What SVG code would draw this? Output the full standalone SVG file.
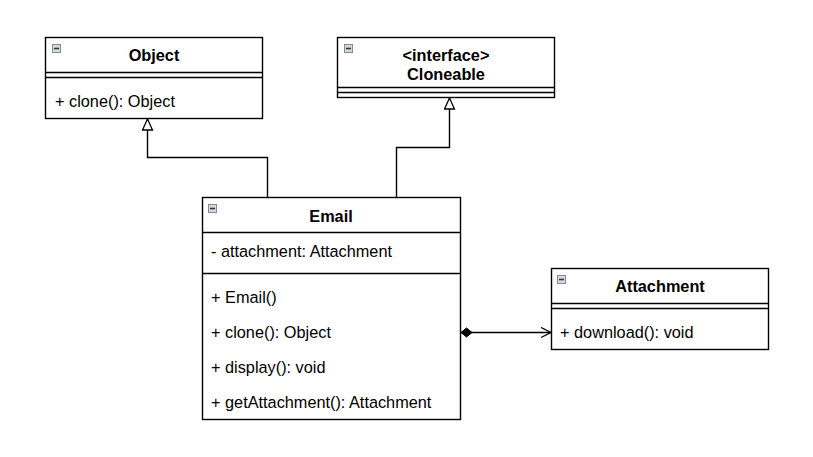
<svg xmlns="http://www.w3.org/2000/svg" width="813" height="457" viewBox="0 0 813 457">
<style>
.box{fill:#fff;stroke:#000;stroke-width:1.4}
.ln{stroke:#000;stroke-width:1.4;fill:none}
.t{font-family:"Liberation Sans",Arial,sans-serif;font-size:16.3px;fill:#000}
.b{font-weight:bold;text-anchor:middle}
.ic{fill:#d4d9e0;stroke:#7f8a99;stroke-width:1}
.icm{stroke:#333;stroke-width:1.6}
.conn{stroke:#000;stroke-width:1.4;fill:none}
</style>
<defs>
<marker id="tri" markerWidth="14" markerHeight="14" refX="12" refY="6" orient="auto" markerUnits="userSpaceOnUse">
<path d="M1,1 L12,6 L1,11 Z" fill="#fff" stroke="#000" stroke-width="1.3"/>
</marker>
<marker id="open" markerWidth="14" markerHeight="14" refX="12" refY="6" orient="auto" markerUnits="userSpaceOnUse">
<path d="M2,1 L12,6 L2,11" fill="none" stroke="#000" stroke-width="1.3"/>
</marker>
<marker id="dia" markerWidth="16" markerHeight="12" refX="1" refY="6" orient="auto" markerUnits="userSpaceOnUse">
<path d="M1,6 L6.5,1.5 L12,6 L6.5,10.5 Z" fill="#000" stroke="#000" stroke-width="1"/>
</marker>
</defs>
<g id="connectors">
<path class="conn" d="M267.5,197.5 V157.5 H147.5 V119" marker-end="url(#tri)"/>
<path class="conn" d="M396.5,197.5 V147.5 H449.5 V98" marker-end="url(#tri)"/>
<path class="conn" d="M461,332.5 H551" marker-start="url(#dia)" marker-end="url(#open)"/>
</g>
<g id="object">
<rect class="box" x="45.5" y="37.5" width="217" height="81"/>
<line class="ln" x1="45.5" y1="72.5" x2="262.5" y2="72.5"/>
<line class="ln" x1="45.5" y1="77.5" x2="262.5" y2="77.5"/>
<rect class="ic" x="52.5" y="44.5" width="8" height="8"/>
<line class="icm" x1="54" y1="48.5" x2="59" y2="48.5"/>
<text class="t b" x="154" y="61">Object</text>
<text class="t" x="55" y="107">+ clone(): Object</text>
</g>
<g id="cloneable">
<rect class="box" x="337.5" y="37.5" width="217" height="60"/>
<line class="ln" x1="337.5" y1="87.5" x2="554.5" y2="87.5"/>
<line class="ln" x1="337.5" y1="92.5" x2="554.5" y2="92.5"/>
<rect class="ic" x="344.5" y="44.5" width="8" height="8"/>
<line class="icm" x1="346" y1="48.5" x2="351" y2="48.5"/>
<text class="t b" x="446" y="61">&lt;interface&gt;</text>
<text class="t b" x="446" y="80">Cloneable</text>
</g>
<g id="email">
<rect class="box" x="202.5" y="197.5" width="258" height="222"/>
<line class="ln" x1="202.5" y1="232.5" x2="460.5" y2="232.5"/>
<line class="ln" x1="202.5" y1="273.5" x2="460.5" y2="273.5"/>
<rect class="ic" x="208.5" y="204.5" width="8" height="8"/>
<line class="icm" x1="210" y1="208.5" x2="215" y2="208.5"/>
<text class="t b" x="331" y="222">Email</text>
<text class="t" x="211" y="257">- attachment: Attachment</text>
<text class="t" x="211" y="303">+ Email()</text>
<text class="t" x="211" y="338">+ clone(): Object</text>
<text class="t" x="211" y="373">+ display(): void</text>
<text class="t" x="211" y="408">+ getAttachment(): Attachment</text>
</g>
<g id="attachment">
<rect class="box" x="551.5" y="268.5" width="217" height="81"/>
<line class="ln" x1="551.5" y1="303.5" x2="768.5" y2="303.5"/>
<line class="ln" x1="551.5" y1="308.5" x2="768.5" y2="308.5"/>
<rect class="ic" x="557.5" y="275.5" width="8" height="8"/>
<line class="icm" x1="559" y1="279.5" x2="564" y2="279.5"/>
<text class="t b" x="660" y="292">Attachment</text>
<text class="t" x="560" y="338">+ download(): void</text>
</g>
</svg>
